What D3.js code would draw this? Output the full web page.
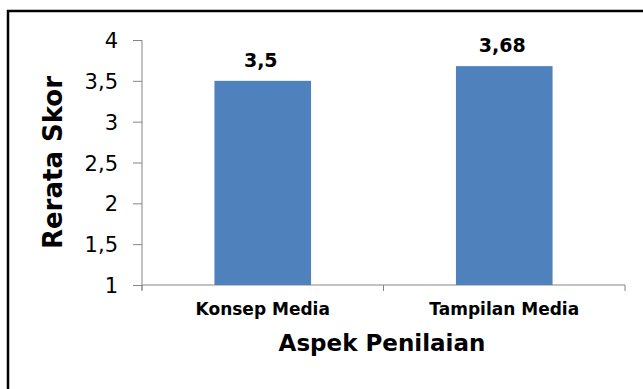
<!DOCTYPE html>
<html>
<head>
<meta charset="utf-8">
<script src="https://cdn.jsdelivr.net/npm/d3@7"></script>
<style>
  body { margin: 0; background: #fff; }
  svg { display: block; font-family: "DejaVu Sans", sans-serif; }
</style>
</head>
<body>
<div class="root"></div>
<script>
var categories = ['Konsep Media', 'Tampilan Media'];
var scores = [3.5, 3.68];
var scoreLabels = ['3,5', '3,68'];
var yTicks = [1, 1.5, 2, 2.5, 3, 3.5, 4];

function drawChart() {
  var w = 643, h = 389;
  var left = 142, right = 625, top = 40, bottom = 285;

  var svg = d3.select('.root').append('svg')
    .attr('width', w)
    .attr('height', h);

  svg.append('rect')
    .attr('width', w)
    .attr('height', h)
    .attr('fill', '#fff');

  // outer frame (cut off at right and bottom)
  svg.append('path')
    .attr('d', 'M8,' + h + 'V11H' + w)
    .attr('fill', 'none')
    .attr('stroke', '#000')
    .attr('stroke-width', 2.5);

  var x = d3.scaleBand()
    .domain(categories)
    .range([left, right]);

  var y = d3.scaleLinear()
    .domain([1, 4])
    .range([bottom, top]);

  var fmt = function(d) { return String(d).replace('.', ','); };

  var yAxis = svg.append('g')
    .attr('transform', 'translate(' + left + ',0)')
    .call(d3.axisLeft(y)
      .tickValues(yTicks)
      .tickFormat(fmt)
      .tickSize(9)
      .tickSizeOuter(0)
      .tickPadding(15));
  yAxis.select('.domain').remove();
  yAxis.selectAll('line').attr('stroke', '#868686');
  yAxis.selectAll('text')
    .attr('fill', '#000')
    .attr('dy', '0.36em')
    .style('font-size', '21px')
    .style('font-family', '"DejaVu Sans", sans-serif');

  var axisColor = '#868686';
  svg.append('line')
    .attr('x1', left).attr('x2', left)
    .attr('y1', top).attr('y2', bottom + 5)
    .attr('stroke', axisColor);
  svg.append('line')
    .attr('x1', left).attr('x2', right)
    .attr('y1', bottom).attr('y2', bottom)
    .attr('stroke', axisColor);

  var bounds = categories.map(function(c) { return x(c); }).concat([right]);
  svg.selectAll('.xtick')
    .data(bounds)
    .enter().append('line')
      .attr('class', 'xtick')
      .attr('x1', function(d) { return d; })
      .attr('x2', function(d) { return d; })
      .attr('y1', bottom)
      .attr('y2', bottom + 6)
      .attr('stroke', axisColor);

  var barW = x.bandwidth() * 0.4;

  svg.selectAll('.bar')
    .data(scores)
    .enter().append('rect')
      .attr('class', 'bar')
      .attr('x', function(d, i) { return x(categories[i]) + (x.bandwidth() - barW) / 2; })
      .attr('y', function(d) { return y(d); })
      .attr('width', barW)
      .attr('height', function(d) { return y(1) - y(d); })
      .attr('fill', '#4F81BD');

  svg.selectAll('.val')
    .data(scores)
    .enter().append('text')
      .attr('class', 'val')
      .attr('x', function(d, i) { return x(categories[i]) + x.bandwidth() / 2 - 2; })
      .attr('y', function(d) { return y(d) - 14; })
      .attr('text-anchor', 'middle')
      .style('font-size', '19px')
      .style('font-weight', 'bold')
      .text(function(d, i) { return scoreLabels[i]; });

  svg.selectAll('.cat')
    .data(categories)
    .enter().append('text')
      .attr('class', 'cat')
      .attr('x', function(d) { return x(d) + x.bandwidth() / 2; })
      .attr('y', 315)
      .attr('text-anchor', 'middle')
      .style('font-size', '17px')
      .style('font-weight', 'bold')
      .text(function(d) { return d; });

  svg.append('text')
    .attr('x', 382)
    .attr('y', 351)
    .attr('text-anchor', 'middle')
    .style('font-size', '23px')
    .style('font-weight', 'bold')
    .text('Aspek Penilaian');

  svg.append('text')
    .attr('transform', 'translate(62,' + ((top + bottom) / 2) + ') rotate(-90)')
    .attr('text-anchor', 'middle')
    .style('font-size', '26px')
    .style('font-weight', 'bold')
    .text('Rerata Skor');
}

window.onload = function() {
  drawChart();
};
</script>
</body>
</html>
